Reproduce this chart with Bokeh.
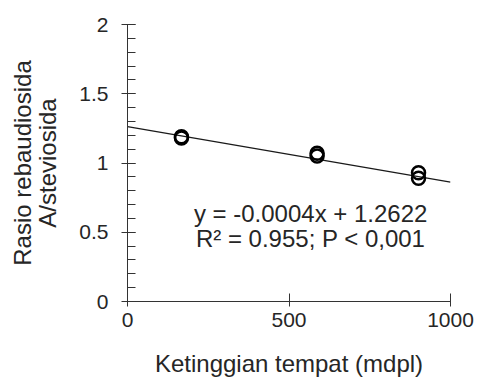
from bokeh.plotting import figure
from bokeh.models import Range1d, FixedTicker, Label
from bokeh.embed import file_html
from bokeh.resources import INLINE

# Data
altitude = [167, 167, 587, 587, 901, 901]
ratio = [1.19, 1.18, 1.07, 1.05, 0.93, 0.89]
slope = -0.0004
intercept = 1.2622
fit_x = [0, 1000]
x_ticks = [0, 500, 1000]
y_ticks = [0, 0.5, 1, 1.5, 2]
eq_line1 = "y = -0.0004x + 1.2622"
eq_line2 = "R² = 0.955; P < 0,001"

FONT = "Liberation Sans"
INK = "#262626"

p = figure(width=478, height=381, output_backend="svg", toolbar_location=None,
           x_range=Range1d(0, 1000), y_range=Range1d(0, 2),
           min_border_left=127, min_border_right=28, min_border_top=24, min_border_bottom=80)
p.outline_line_color = None
p.grid.visible = False
p.background_fill_color = "white"
p.border_fill_color = "white"

fit_y = [slope * x + intercept for x in fit_x]
p.line(fit_x, fit_y, line_color="#1a1a1a", line_width=1.3)
p.scatter(altitude, ratio, marker="circle", size=13, fill_color=None,
          line_color="black", line_width=2.5)

p.xaxis.ticker = FixedTicker(ticks=x_ticks)
p.yaxis.ticker = FixedTicker(ticks=y_ticks, minor_ticks=[i / 10 for i in range(21)])
for ax in (p.xaxis[0], p.yaxis[0]):
    ax.axis_line_color = "#333333"
    ax.major_tick_line_color = "#333333"
    ax.minor_tick_line_color = "#333333"
    ax.major_label_text_font = FONT
    ax.major_label_text_font_size = "21px"
    ax.major_label_text_color = INK
    ax.axis_label_text_font = FONT
    ax.axis_label_text_font_size = "24px"
    ax.axis_label_text_font_style = "normal"
    ax.axis_label_text_color = INK

p.xaxis.major_tick_in = 8
p.xaxis.major_tick_out = 5
p.xaxis.minor_tick_in = 0
p.xaxis.minor_tick_out = 0
p.xaxis.major_label_standoff = 6
p.xaxis.axis_label = "Ketinggian tempat (mdpl)"
p.xaxis.axis_label_standoff = 20

p.yaxis.major_tick_in = 8
p.yaxis.major_tick_out = 6
p.yaxis.minor_tick_in = 8
p.yaxis.minor_tick_out = 0
p.yaxis.major_label_standoff = 13
p.yaxis.axis_label = "Rasio rebaudiosida\nA/steviosida"
p.yaxis.axis_label_text_line_height = 0.92
p.yaxis.axis_label_standoff = 15

for txt, yy in ((eq_line1, 0.635), (eq_line2, 0.455)):
    p.add_layout(Label(x=567, y=yy, text=txt, text_align="center", text_baseline="middle",
                       text_font=FONT, text_font_size="24px", text_color=INK))

open("out.html", "w").write(file_html(p, INLINE))
